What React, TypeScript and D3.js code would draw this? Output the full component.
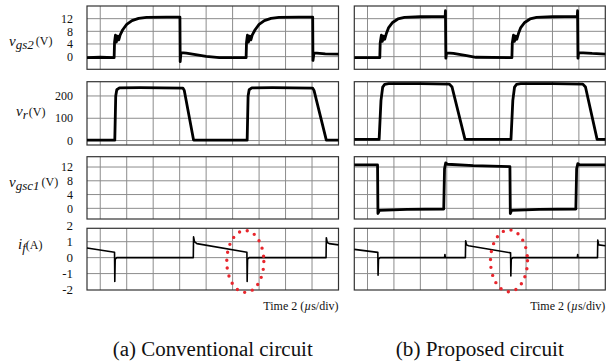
import React from 'react';
import * as d3 from 'd3';

// time axis: 9.5 divisions of 2 us, first gridline half a division in
const timeDomain: [number, number] = [0, 19];
const timeGrid = [1, 3, 5, 7, 9, 11, 13, 15, 17];

// tick labels per row
const vgsTicks = [0, 4, 8, 12];
const vrTicks = [0, 100, 200];
const ifTicks = [-2, -1, 0, 1, 2];
const ifGrid = [-1, 0, 1];

// (a) conventional circuit, [time us, value]
const vgs2Conv: [number, number][] = [
  [0, -0.3], [1, -0.2], [2.05, -0.3], [2.08, 4.5], [2.15, 6.8], [2.22, 4.6], [2.3, 6.5], [2.4, 5.3],
  [2.5, 6.8], [2.7, 8.5], [3.0, 10.2], [3.4, 11.4], [3.9, 12.1], [4.5, 12.4], [6, 12.5], [7.02, 12.5],
  [7.04, -1.6], [7.1, 1.3], [7.5, 1.1], [8.2, 0.6], [9, 0.1], [10, -0.3], [12.02, -0.3], [12.05, 4.5],
  [12.12, 6.8], [12.2, 4.6], [12.28, 6.5], [12.38, 5.3], [12.48, 6.8], [12.7, 8.5], [13.0, 10.2],
  [13.4, 11.4], [13.9, 12.1], [14.5, 12.4], [16, 12.5], [17.05, 12.5], [17.07, -1.2], [17.15, 1.2],
  [18, 0.9], [19, 0.8],
];
const vrConv: [number, number][] = [
  [0, 2], [2.1, 2], [2.17, 200], [2.25, 228], [2.45, 236], [4, 237], [7.25, 235], [7.35, 225], [8.05, 2],
  [12.1, 2], [12.17, 200], [12.25, 228], [12.45, 236], [14, 237], [17.05, 235], [17.15, 225], [18.08, 2],
  [19, 2],
];
const vgsc1Conv: [number, number][] = [];
const ifConv: [number, number][] = [
  [0, 0.6], [2.08, 0.34], [2.1, -1.5], [2.13, -0.1], [2.25, 0], [8.03, 0], [8.05, 1.3], [8.12, 1.0],
  [8.3, 0.88], [12.08, 0.34], [12.1, -1.5], [12.13, -0.1], [12.25, 0], [18.06, 0], [18.08, 1.25],
  [18.15, 0.95], [18.3, 0.88], [19, 0.8],
];

// (b) proposed circuit
const vgs2Prop: [number, number][] = [
  [0, -0.3], [1.93, -0.3], [1.96, 4.3], [2.05, 6.8], [2.12, 4.8], [2.2, 6.5], [2.3, 5.5], [2.42, 7.2],
  [2.6, 9.2], [2.9, 10.8], [3.3, 11.9], [3.8, 12.4], [5, 12.6], [6.88, 12.7], [6.9, 14.5], [6.93, -0.5],
  [6.98, 1.2], [7.5, 1.0], [8.5, 0.3], [9.2, -0.2], [11.93, -0.3], [11.96, 4.3], [12.05, 6.8],
  [12.12, 4.8], [12.2, 6.5], [12.3, 5.5], [12.42, 7.2], [12.6, 9.2], [12.9, 10.8], [13.3, 11.9],
  [13.8, 12.4], [15, 12.6], [16.88, 12.7], [16.9, 14.5], [16.93, -0.5], [16.98, 1.3], [18, 1.0], [19, 0.8],
];
const vrProp: [number, number][] = [
  [0, 5], [1.88, 5], [2.02, 180], [2.15, 240], [2.3, 252], [2.6, 255], [5, 255], [7.2, 253], [7.4, 240],
  [8.38, 5], [11.86, 5], [12.0, 180], [12.13, 240], [12.28, 252], [12.6, 255], [15, 255], [17.3, 253],
  [17.5, 240], [18.38, 5], [19, 5],
];
const vgsc1Prop: [number, number][] = [
  [0, 12.6], [1.76, 12.6], [1.79, -1.5], [1.9, -0.6], [4, -0.3], [6.77, -0.2], [6.83, 11.5], [6.92, 13.2],
  [7.05, 12.8], [9, 12.4], [11.78, 12.1], [11.81, -1.5], [11.9, -0.6], [14, -0.3], [16.77, -0.2],
  [16.83, 11.5], [16.92, 13.0], [17.05, 12.6], [19, 12.6],
];
const ifProp: [number, number][] = [
  [0, 0.52], [1.78, 0.33], [1.8, -1.1], [1.83, -0.1], [1.95, 0], [6.83, 0], [6.86, 0.2], [6.89, 0],
  [8.41, 0], [8.43, 1.05], [8.5, 0.8], [8.65, 0.75], [11.83, 0.3], [11.85, -1.15], [11.88, -0.1],
  [12.0, 0], [16.88, 0], [16.91, 0.2], [16.94, 0], [18.41, 0], [18.43, 1.1], [18.5, 0.8], [19, 0.75],
];

// red dotted ellipse around the turn-off spike: [center t, center i, half width us, half height A]
const markConv = [11.96, -0.24, 1.4, 1.94];
const markProp = [11.71, -0.2, 1.4, 1.94];

const captions = ['(a) Conventional circuit', '(b) Proposed circuit'];

const FONT = "'Liberation Serif', 'Times New Roman', Times, serif";
const txt = { fontFamily: FONT, fill: '#111' };

const panels = [
  { x0: 87, x1: 338.5, series: [vgs2Conv, vrConv, vgsc1Conv, ifConv], mark: markConv, capLen: 200 },
  { x0: 354.3, x1: 605.3, series: [vgs2Prop, vrProp, vgsc1Prop, ifProp], mark: markProp, capLen: 168 },
];

const rows = [
  { y0: 6, y1: 69.3, domain: [-4, 16], grid: vgsTicks, ticks: vgsTicks },
  { y0: 81.7, y1: 145, domain: [-20, 264], grid: vrTicks, ticks: vrTicks },
  { y0: 156.7, y1: 219, domain: [-3.1, 15], grid: vgsTicks, ticks: vgsTicks },
  { y0: 228.3, y1: 290, domain: [-2.03, 1.84], grid: ifGrid, ticks: ifTicks },
];

const RowLabel: React.FC<{ row: number }> = ({ row }) => {
  if (row === 0)
    return (
      <text x={9} y={46} style={txt}>
        <tspan fontStyle="italic" fontSize={15}>v</tspan>
        <tspan fontStyle="italic" fontSize={13} dy={3}>gs2</tspan>
        <tspan fontSize={12} dy={-4} dx={2}>(V)</tspan>
      </text>
    );
  if (row === 1)
    return (
      <text x={16} y={116} style={txt}>
        <tspan fontStyle="italic" fontSize={15}>v</tspan>
        <tspan fontStyle="italic" fontSize={13} dy={3}>r</tspan>
        <tspan fontSize={12} dy={-3} dx={1}>(V)</tspan>
      </text>
    );
  if (row === 2)
    return (
      <text x={9} y={187} style={txt}>
        <tspan fontStyle="italic" fontSize={15}>v</tspan>
        <tspan fontStyle="italic" fontSize={13} dy={3}>gsc1</tspan>
        <tspan fontSize={12} dy={-4} dx={2}>(V)</tspan>
      </text>
    );
  return (
    <text x={18} y={249} style={txt}>
      <tspan fontStyle="italic" fontSize={15}>i</tspan>
      <tspan fontStyle="italic" fontSize={13} dy={3}>f</tspan>
      <tspan fontSize={12} dy={-3}>(A)</tspan>
    </text>
  );
};

export default function App() {
  return (
    <svg width={606} height={362} style={{ position: 'absolute', left: 0, top: 0, background: '#fff' }}>
      {rows.map((row, ri) => {
        const y = d3.scaleLinear().domain(row.domain).range([row.y1, row.y0]);
        return (
          <g key={'lab' + ri}>
            <RowLabel row={ri} />
            {row.ticks.map((t) => (
              <text key={t} x={73} y={y(t)} dy="0.35em" textAnchor="end" fontSize={ri === 3 ? 13 : 12} style={txt}>
                {t}
              </text>
            ))}
          </g>
        );
      })}

      {panels.map((p, pi) => {
        const x = d3.scaleLinear().domain(timeDomain).range([p.x0, p.x1]);
        return (
          <g key={pi}>
            {rows.map((row, ri) => {
              const y = d3.scaleLinear().domain(row.domain).range([row.y1, row.y0]);
              const line = d3
                .line<[number, number]>()
                .x((d) => x(d[0]))
                .y((d) => y(d[1]));
              const data = p.series[ri];
              return (
                <g key={ri}>
                  {timeGrid.map((t) => (
                    <line key={'v' + t} x1={x(t)} x2={x(t)} y1={row.y0} y2={row.y1} stroke="#8c8c8c" strokeWidth={1} />
                  ))}
                  {row.grid.map((v) => (
                    <line key={'h' + v} x1={p.x0} x2={p.x1} y1={y(v)} y2={y(v)} stroke="#8c8c8c" strokeWidth={1} />
                  ))}
                  <rect x={p.x0} y={row.y0} width={p.x1 - p.x0} height={row.y1 - row.y0} fill="none" stroke="#333" strokeWidth={1.2} />
                  {data.length > 0 && (
                    <path
                      d={line(data) || ''}
                      fill="none"
                      stroke="#000"
                      strokeWidth={ri === 3 ? 1.6 : 2.8}
                      strokeLinejoin="round"
                    />
                  )}
                  {ri === 3 && (
                    <ellipse
                      cx={x(p.mark[0])}
                      cy={y(p.mark[1])}
                      rx={x(p.mark[2]) - x(0)}
                      ry={y(0) - y(p.mark[3])}
                      fill="none"
                      stroke="#e8262d"
                      strokeWidth={3.4}
                      strokeLinecap="round"
                      strokeDasharray="0 8"
                    />
                  )}
                </g>
              );
            })}
            <text x={p.x1} y={310} textAnchor="end" fontSize={12} style={txt}>
              Time 2 (<tspan fontStyle="italic">µ</tspan>s/div)
            </text>
            <text
              x={(p.x0 + p.x1) / 2}
              y={356}
              textAnchor="middle"
              fontSize={20}
              style={txt}
              textLength={p.capLen}
              lengthAdjust="spacingAndGlyphs"
            >
              {captions[pi]}
            </text>
          </g>
        );
      })}
    </svg>
  );
}
